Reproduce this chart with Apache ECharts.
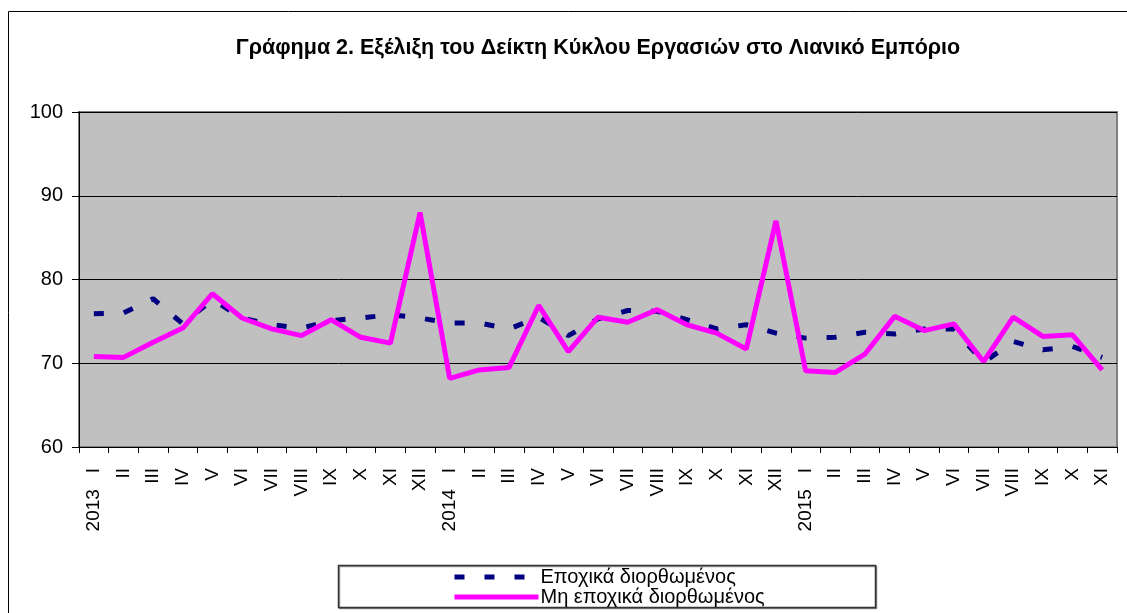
<!DOCTYPE html>
<html>
<head>
<meta charset="utf-8">
<script src="https://cdn.jsdelivr.net/npm/echarts@6/dist/echarts.min.js"></script>
<style>
  html, body { margin: 0; padding: 0; background: #fff; }
  #chart { width: 1127px; height: 613px; }
</style>
</head>
<body>
<div id="chart"></div>
<script>
  // months, roman numerals, year shown on the first month
  const months = [
    '2013   I', 'II', 'III', 'IV', 'V', 'VI', 'VII', 'VIII', 'IX', 'X', 'XI', 'XII',
    '2014   I', 'II', 'III', 'IV', 'V', 'VI', 'VII', 'VIII', 'IX', 'X', 'XI', 'XII',
    '2015   I', 'II', 'III', 'IV', 'V', 'VI', 'VII', 'VIII', 'IX', 'X', 'XI'
  ]
  const seasonAdj = [
    75.9, 76.0, 77.7, 74.7, 77.6, 75.4, 74.6, 74.2, 75.1, 75.4, 75.8, 75.4,
    74.8, 74.8, 74.1, 75.5, 73.3, 75.3, 76.3, 76.2, 75.2, 74.1, 74.6, 73.6,
    73.0, 73.1, 73.7, 73.5, 74.1, 74.1, 70.1, 72.6, 71.6, 72.0, 70.7
  ]
  const nonSeasonAdj = [
    70.8, 70.7, 72.5, 74.2, 78.3, 75.4, 74.1, 73.3, 75.2, 73.1, 72.4, 88.0,
    68.2, 69.2, 69.5, 76.9, 71.4, 75.5, 74.9, 76.4, 74.6, 73.6, 71.7, 87.0,
    69.1, 68.9, 71.1, 75.6, 73.9, 74.7, 70.2, 75.5, 73.2, 73.4, 69.2
  ]
  const yTicks = [60, 70, 80, 90, 100]

  const font = "'Liberation Sans', Arial, sans-serif"
  const chart = echarts.init(document.getElementById('chart'))

  chart.setOption({
    animation: false,
    textStyle: { fontFamily: font, color: '#000' },
    title: {
      text: 'Γράφημα 2. Εξέλιξη του Δείκτη Κύκλου Εργασιών στο Λιανικό Εμπόριο',
      left: 593,
      textAlign: 'center',
      top: 32,
      textStyle: { fontFamily: font, fontSize: 21.5, fontWeight: 'bold', color: '#000' }
    },
    graphic: [
      // outer chart frame
      {
        type: 'rect',
        shape: { x: 8.5, y: 11.5, width: 1130, height: 620 },
        style: { fill: null, stroke: '#000', lineWidth: 1 },
        z: -1
      },
      // legend frame
      {
        type: 'rect',
        shape: { x: 338.5, y: 565.5, width: 537, height: 42 },
        style: { fill: '#fff', stroke: '#333', lineWidth: 1.5, shadowColor: 'rgba(0,0,0,0.4)', shadowOffsetX: 1, shadowOffsetY: 1 },
        z: 0
      }
    ],
    legend: {
      orient: 'vertical',
      left: 452,
      top: 567,
      padding: 0,
      itemGap: 0,
      itemWidth: 84,
      itemHeight: 17,
      z: 5,
      itemStyle: { opacity: 0 },
      lineStyle: { width: 'inherit' },
      textStyle: { fontFamily: font, fontSize: 20, lineHeight: 17, color: '#000', padding: [0, 0, 0, -3] },
      data: ['Εποχικά διορθωμένος', 'Μη εποχικά διορθωμένος']
    },
    grid: {
      left: 79,
      right: 10,
      top: 112,
      bottom: 166,
      show: true,
      backgroundColor: '#C0C0C0',
      borderColor: '#808080',
      borderWidth: 2
    },
    xAxis: {
      type: 'category',
      data: months,
      boundaryGap: true,
      axisLine: { lineStyle: { color: '#000', width: 1 } },
      axisTick: { show: true, length: 6, lineStyle: { color: '#000' } },
      axisLabel: { interval: 0, rotate: 90, margin: 21, fontSize: 19, color: '#000', fontFamily: font }
    },
    yAxis: {
      type: 'value',
      min: yTicks[0],
      max: yTicks[yTicks.length - 1],
      interval: 10,
      axisLine: { show: true, lineStyle: { color: '#000', width: 1 } },
      axisTick: { show: true, length: 7, lineStyle: { color: '#000' } },
      axisLabel: { margin: 16, fontSize: 20, color: '#000', fontFamily: font },
      splitLine: { show: true, lineStyle: { color: '#000', width: 1 } }
    },
    series: [
      {
        name: 'Εποχικά διορθωμένος',
        type: 'line',
        data: seasonAdj,
        symbol: 'none',
        lineStyle: { color: '#000080', width: 5, type: [10, 20], cap: 'butt' },
        itemStyle: { color: '#000080' }
      },
      {
        name: 'Μη εποχικά διορθωμένος',
        type: 'line',
        data: nonSeasonAdj,
        symbol: 'none',
        lineStyle: { color: '#FF00FF', width: 5 },
        itemStyle: { color: '#FF00FF' }
      }
    ]
  })
</script>
</body>
</html>
